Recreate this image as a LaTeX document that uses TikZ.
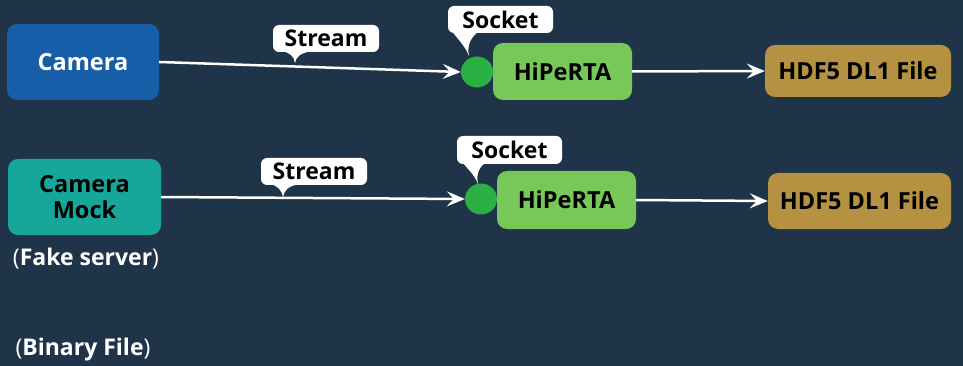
\documentclass[tikz,border=0pt]{standalone}
\usepackage{fontspec}
\setmainfont{Open Sans}
\usetikzlibrary{arrows.meta,shapes.geometric}
\definecolor{bgc}{HTML}{1F3449}
\definecolor{camblue}{HTML}{165EA7}
\definecolor{mockteal}{HTML}{17A69A}
\definecolor{sockgreen}{HTML}{2BB043}
\definecolor{hipgreen}{HTML}{77C858}
\definecolor{hdfgold}{HTML}{B59241}
\tikzset{
  box/.style={rounded corners=10pt, inner sep=0pt, font=\fontsize{23.5}{26}\selectfont\bfseries, align=center},
  bubble/.style={fill=white, rounded corners=6pt, inner sep=0pt, font=\fontsize{23}{26}\selectfont\bfseries, text=black},
  flow/.style={draw=white, line width=2.5pt, -{Stealth[length=18pt,width=15pt,inset=7pt]}},
  sock/.style={ellipse, fill=sockgreen, inner sep=0pt, minimum width=32pt, minimum height=31pt},
  note/.style={text=white, font=\fontsize{23}{26}\selectfont},
}
\begin{document}
\begin{tikzpicture}[x=1pt,y=-1pt]
\fill[bgc] (0,0) rectangle (963,366);
\useasboundingbox (0,0) rectangle (963,366);
% row 1
\node[box, fill=camblue, text=white, minimum width=152pt, minimum height=76pt] (cam) at (83,62) {Camera};
\node[sock] (s1) at (477,72) {};
\node[box, fill=hipgreen, text=black, minimum width=139pt, minimum height=57pt] (h1) at (562.5,71.5) {HiPeRTA};
\node[box, fill=hdfgold, text=black, minimum width=186pt, minimum height=52pt] (f1) at (858,71) {HDF5 DL1 File};
\draw[flow] (cam.east) -- (s1.west);
\draw[flow] (h1.east) -- (f1.west);
% callouts row 1
\node[bubble, minimum width=106pt, minimum height=27pt] (st1) at (326,38.5) {Stream};
\coordinate (st1tip) at (295,63);
\fill[white] (282,51) .. controls (290,53) and (294,56) .. (st1tip) .. controls (296,57) and (300,53) .. (312,51) -- cycle;
\node[bubble, minimum width=105pt, minimum height=27pt] (so1) at (500.5,19.5) {Socket};
\coordinate (so1tip) at (469,56);
\fill[white] (450,28) .. controls (456,38) and (465,45) .. (so1tip) .. controls (467,46) and (470,38) .. (478,32) -- cycle;
% row 2
\node[box, fill=mockteal, text=black, minimum width=153pt, minimum height=76pt] (mock) at (84.5,197) {Camera\\Mock};
\node[note] (fake) at (86,259) {\mdseries(\bfseries Fake server\mdseries)};
\node[sock] (s2) at (481,199) {};
\node[box, fill=hipgreen, text=black, minimum width=139pt, minimum height=58pt] (h2) at (566.5,200) {HiPeRTA};
\node[box, fill=hdfgold, text=black, minimum width=183pt, minimum height=56pt] (f2) at (859.5,201) {HDF5 DL1 File};
\draw[flow] (mock.east) -- (s2.west);
\draw[flow] (h2.east) -- (f2.west);
\node[bubble, minimum width=106pt, minimum height=27pt] (st2) at (314,171.5) {Stream};
\coordinate (st2tip) at (283,198);
\fill[white] (270,184) .. controls (278,186) and (282,190) .. (st2tip) .. controls (284,190) and (288,186) .. (300,184) -- cycle;
\node[bubble, minimum width=105pt, minimum height=28pt] (so2) at (509.5,150) {Socket};
\coordinate (so2tip) at (478,184);
\fill[white] (459,158) .. controls (465,167) and (474,173) .. (so2tip) .. controls (476,174) and (479,166) .. (487,162) -- cycle;
\node[note] (bin) at (83,350) {\mdseries(\bfseries Binary File\mdseries)};
\end{tikzpicture}
\end{document}
